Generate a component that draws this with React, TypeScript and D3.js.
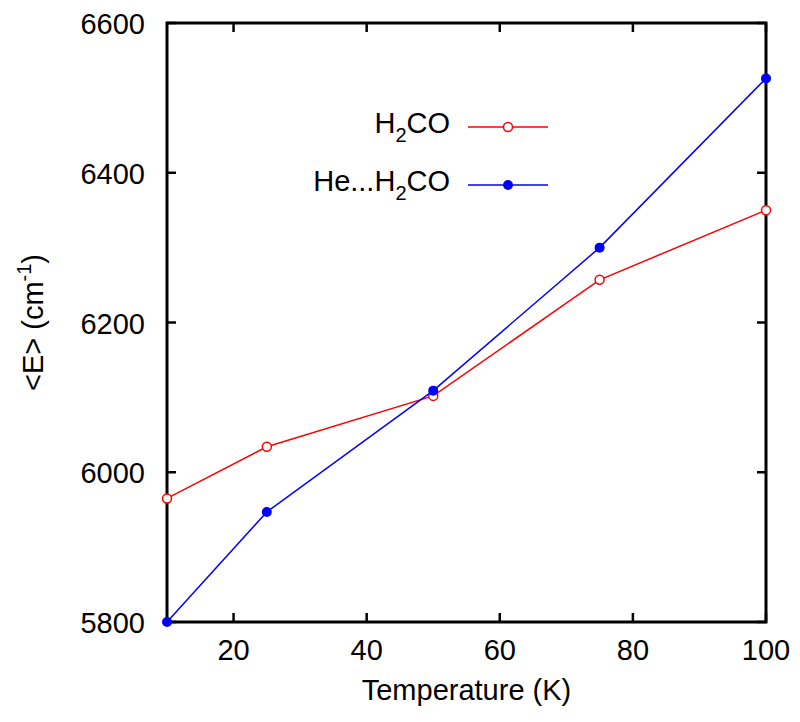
import * as d3 from "d3";

const temps = [10, 25, 50, 75, 100];
const h2co = [5965, 6034, 6102, 6257, 6350];
const heH2co = [5800, 5947, 6109, 6300, 6526];
const xTicks = [20, 40, 60, 80, 100];
const yTicks = [5800, 6000, 6200, 6400, 6600];

const W = 800;
const H = 722;
const margin = { top: 23, right: 34, bottom: 100, left: 167 };

export default function App() {
  const x = d3.scaleLinear().domain([10, 100]).range([margin.left, W - margin.right]);
  const y = d3.scaleLinear().domain([5800, 6600]).range([H - margin.bottom, margin.top]);
  const line = d3
    .line<number>()
    .x((_, i) => x(temps[i]))
    .y((d) => y(d));

  const font = "Liberation Sans, Arial, sans-serif";
  const fs = 29;
  const x0 = x(10);
  const x1 = x(100);
  const y0 = y(5800);
  const y1 = y(6600);
  const tick = 9;

  const legend = [
    { label: "H", sub: "2", rest: "CO", color: "#ff0000", open: true, ly: 127 },
    { label: "He...H", sub: "2", rest: "CO", color: "#0000ff", open: false, ly: 185 },
  ];

  return (
    <svg width={W} height={H} style={{ position: "absolute", left: 0, top: 0 }} fontFamily={font}>
      <rect width={W} height={H} fill="#fff" />
      {/* ticks */}
      {xTicks.map((t) => (
        <g key={"x" + t}>
          <line x1={x(t)} x2={x(t)} y1={y0} y2={y0 - tick} stroke="#000" strokeWidth={2.5} />
          <line x1={x(t)} x2={x(t)} y1={y1} y2={y1 + tick} stroke="#000" strokeWidth={2.5} />
          <text x={x(t)} y={y0 + 38} textAnchor="middle" fontSize={fs}>
            {t}
          </text>
        </g>
      ))}
      {yTicks.map((t) => (
        <g key={"y" + t}>
          <line x1={x0} x2={x0 + tick} y1={y(t)} y2={y(t)} stroke="#000" strokeWidth={2.5} />
          <line x1={x1} x2={x1 - tick} y1={y(t)} y2={y(t)} stroke="#000" strokeWidth={2.5} />
          <text x={x0 - 22} y={y(t) + 11} textAnchor="end" fontSize={fs}>
            {t}
          </text>
        </g>
      ))}
      <rect x={x0} y={y1} width={x1 - x0} height={y0 - y1} fill="none" stroke="#000" strokeWidth={3} />

      {/* series */}
      <path d={line(h2co) || ""} fill="none" stroke="#ff0000" strokeWidth={1.5} />
      {h2co.map((v, i) => (
        <circle key={"r" + i} cx={x(temps[i])} cy={y(v)} r={4.5} fill="#fff" stroke="#ff0000" strokeWidth={1.5} />
      ))}
      <path d={line(heH2co) || ""} fill="none" stroke="#0000ff" strokeWidth={1.5} />
      {heH2co.map((v, i) => (
        <circle key={"b" + i} cx={x(temps[i])} cy={y(v)} r={5} fill="#0000ff" />
      ))}

      {/* legend */}
      {legend.map((l) => (
        <g key={l.label}>
          <text x={450} y={l.ly + 6} textAnchor="end" fontSize={fs}>
            {l.label}
            <tspan fontSize={20} dy={9}>
              {l.sub}
            </tspan>
            <tspan dy={-9}>{l.rest}</tspan>
          </text>
          <line x1={468} x2={548} y1={l.ly} y2={l.ly} stroke={l.color} strokeWidth={1.5} />
          {l.open ? (
            <circle cx={508} cy={l.ly} r={4.5} fill="#fff" stroke={l.color} strokeWidth={1.5} />
          ) : (
            <circle cx={508} cy={l.ly} r={5} fill={l.color} />
          )}
        </g>
      ))}

      {/* axis titles */}
      <text x={(x0 + x1) / 2} y={700} textAnchor="middle" fontSize={fs}>
        Temperature (K)
      </text>
      <text transform={`translate(43,${(y0 + y1) / 2}) rotate(-90)`} textAnchor="middle" fontSize={fs}>
        {"<E> (cm"}
        <tspan fontSize={20} dy={-12}>
          -1
        </tspan>
        <tspan dy={12}>)</tspan>
      </text>
    </svg>
  );
}
